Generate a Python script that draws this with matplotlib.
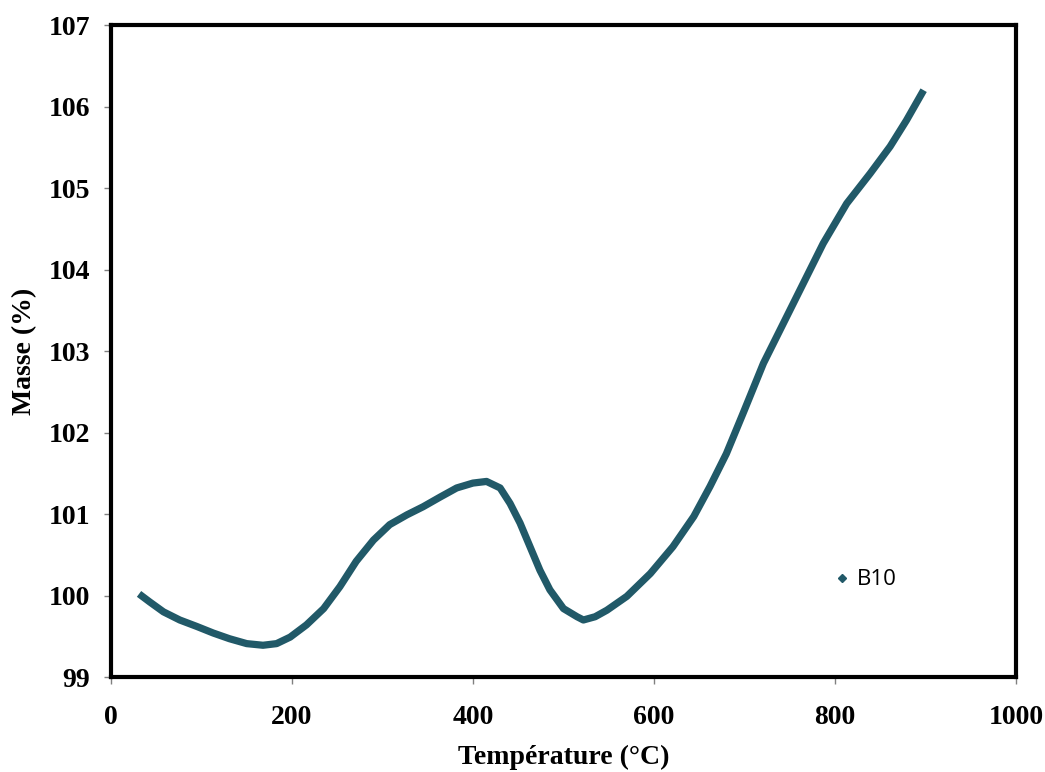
import matplotlib.pyplot as plt
from matplotlib.lines import Line2D

# courbe ATG B10
temperature = [31, 43, 58, 76, 95, 113, 131, 150, 168, 183, 198, 216, 235,
               253, 271, 290, 308, 327, 345, 364, 382, 400, 415, 430, 441,
               452, 463, 474, 485, 500, 515, 522, 535, 548, 570, 596, 621,
               644, 662, 680, 699, 721, 743, 765, 787, 813, 839, 861, 879, 898]
masse = [100.02, 99.92, 99.80, 99.70, 99.62, 99.54, 99.47, 99.41, 99.39,
         99.41, 99.49, 99.64, 99.84, 100.11, 100.42, 100.68, 100.87, 100.99,
         101.09, 101.21, 101.32, 101.38, 101.40, 101.32, 101.13, 100.89,
         100.60, 100.31, 100.07, 99.84, 99.74, 99.70, 99.74, 99.82, 99.99,
         100.27, 100.60, 100.97, 101.34, 101.74, 102.25, 102.85, 103.34,
         103.83, 104.32, 104.81, 105.18, 105.51, 105.83, 106.20]
xticks = [0, 200, 400, 600, 800, 1000]
yticks = [99, 100, 101, 102, 103, 104, 105, 106, 107]

couleur = '#215968'

fig = plt.figure(figsize=(10.45, 7.72), dpi=100)
ax = fig.add_axes([0.1062, 0.123, 0.866, 0.8446])

ax.plot(temperature, masse, color=couleur, lw=5.2, solid_capstyle='butt',
        solid_joinstyle='round')

ax.set_xlim(0, 1000)
ax.set_ylim(99, 107)
ax.set_xticks(xticks)
ax.set_yticks(yticks)

for s in ax.spines.values():
    s.set_linewidth(3)
    s.set_color('black')
ax.tick_params(direction='out', length=5, width=1, color='gray')
ax.tick_params(axis='x', pad=15)
ax.tick_params(axis='y', pad=10)

font = {'family': 'Liberation Serif', 'weight': 'bold', 'size': 20}
for lab in ax.get_xticklabels() + ax.get_yticklabels():
    lab.set_fontproperties('Liberation Serif')
    lab.set_fontweight('bold')
    lab.set_fontsize(20)

ax.set_xlabel('Température (°C)', fontdict=font, labelpad=11)
ax.set_ylabel('Masse (%)', fontdict=font, labelpad=8)

proxy = Line2D([], [], color=couleur, marker='D', markersize=4, linestyle='none')
ax.legend([proxy], ['B10'], loc='center', bbox_to_anchor=(0.833, 0.149),
          frameon=False, handletextpad=0.3, handlelength=0.8,
          prop={'family': 'Open Sans', 'size': 16})

fig.savefig('out.png', dpi=100)
